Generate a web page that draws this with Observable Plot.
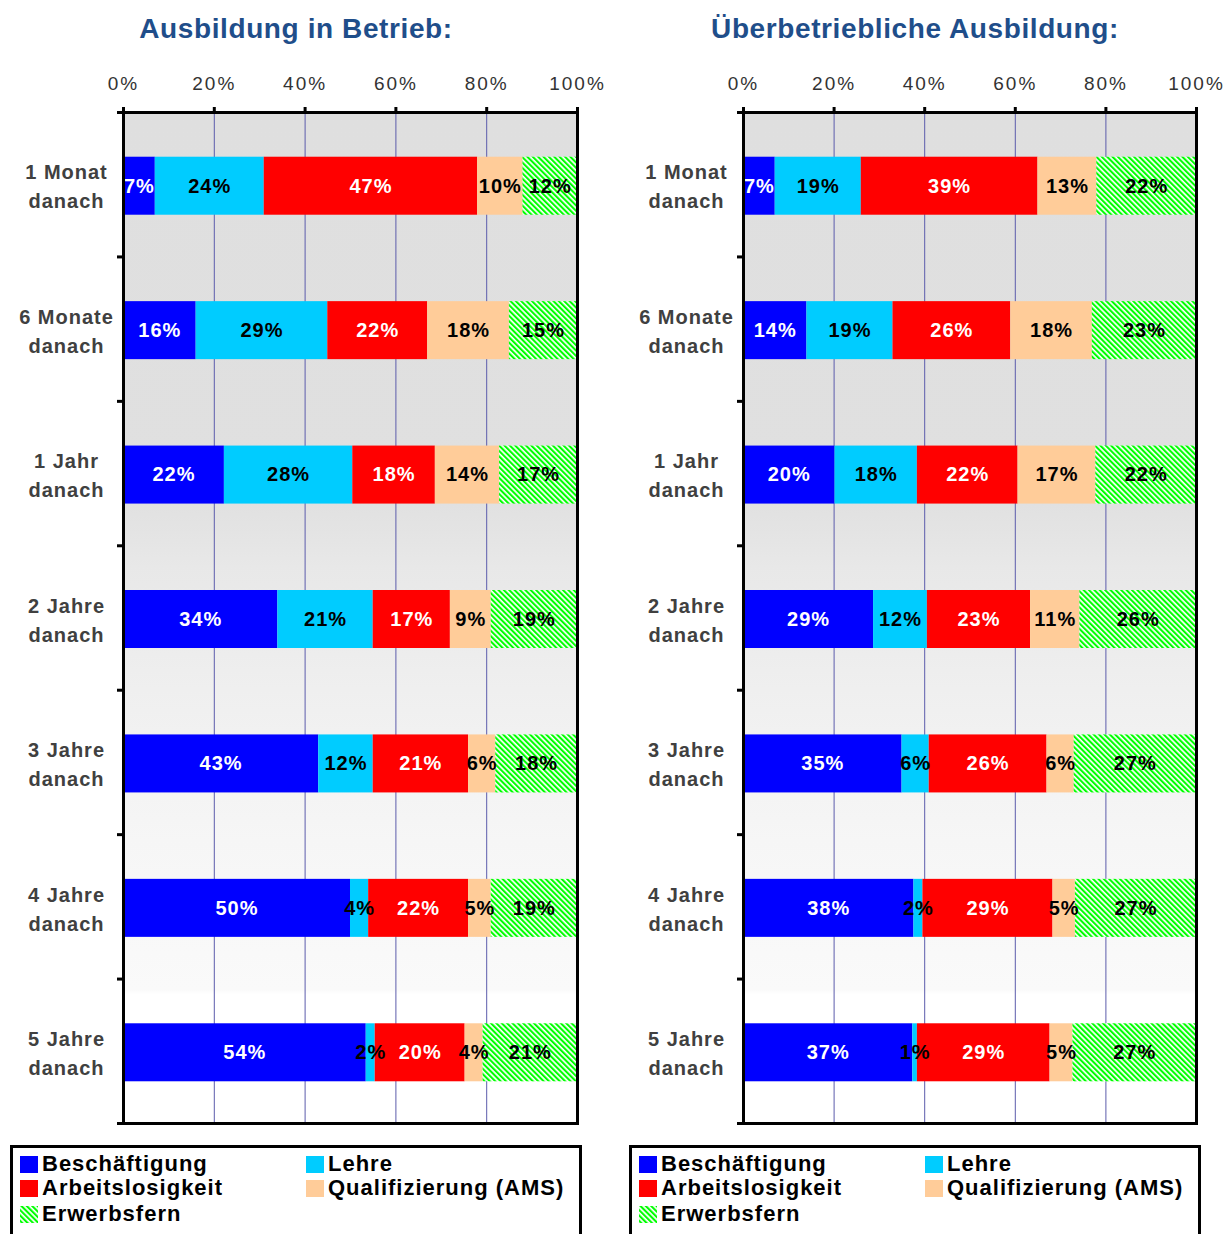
<!DOCTYPE html>
<html>
<head>
<meta charset="utf-8">
<script src="https://cdn.jsdelivr.net/npm/d3@7"></script>
<script src="https://cdn.jsdelivr.net/npm/@observablehq/plot@0.6"></script>
<style>
  body { margin: 0; background: white; font-family: "Liberation Sans", Arial, sans-serif; }
  #root { position: relative; width: 1225px; height: 1234px; overflow: hidden; }
  .panel { position: absolute; top: 50px; }
  .panel svg { overflow: visible; }
  .title { position: absolute; top: 13px; width: 572px; text-align: center; font-weight: bold; font-size: 28px; letter-spacing: 0.6px; line-height: 32px; color: #1f4e8a; }
  .legend { position: absolute; top: 1145px; width: 572px; height: 110px; border: 3px solid black; box-sizing: border-box; }
  .item { position: absolute; display: flex; align-items: center; font-weight: bold; font-size: 22px; letter-spacing: 1px; color: black; height: 24px; white-space: nowrap; }
  .sw { width: 18px; height: 17px; margin-right: 4px; flex: none; }
  g[aria-label="x-axis tick label"] text { letter-spacing: 2px; }
  g[aria-label="text"] text { letter-spacing: 1px; }
</style>
</head>
<body>
<div id="root">
  <svg width="0" height="0" style="position:absolute">
    <defs>
      <pattern id="hatch" patternUnits="userSpaceOnUse" width="3.8" height="3.8" patternTransform="rotate(-45)">
        <rect width="3.8" height="3.8" fill="white"></rect>
        <rect width="2.1" height="3.8" fill="#00ff00"></rect>
      </pattern>
      <linearGradient id="bggrad" x1="0" y1="0" x2="0" y2="1">
        <stop offset="0" stop-color="#dfdfdf"></stop>
        <stop offset="0.38" stop-color="#e0e0e0"></stop>
        <stop offset="0.45" stop-color="#e8e8e8"></stop>
        <stop offset="0.57" stop-color="#efefef"></stop>
        <stop offset="0.72" stop-color="#f6f6f6"></stop>
        <stop offset="0.868" stop-color="#fafafa"></stop>
        <stop offset="0.872" stop-color="#ffffff"></stop>
        <stop offset="1" stop-color="#ffffff"></stop>
      </linearGradient>
    </defs>
  </svg>
  <div class="title" style="left:10px">Ausbildung in Betrieb:</div>
  <div class="title" style="left:629px">Überbetriebliche Ausbildung:</div>
  <div id="p1" class="panel" style="left:0px"></div>
  <div id="p2" class="panel" style="left:612px"></div>
  <div id="l1" class="legend" style="left:10px"></div>
  <div id="l2" class="legend" style="left:629px"></div>
</div>
<script>
// ---- data ----
const categories = ["1 Monat\ndanach", "6 Monate\ndanach", "1 Jahr\ndanach", "2 Jahre\ndanach", "3 Jahre\ndanach", "4 Jahre\ndanach", "5 Jahre\ndanach"];
const series = ["Beschäftigung", "Lehre", "Arbeitslosigkeit", "Qualifizierung (AMS)", "Erwerbsfern"];
const seriesColors = ["#0000ff", "#00ccff", "#ff0000", "#ffcc99", "url(#hatch)"];
const labelColors = ["white", "black", "white", "black", "black"];
const xTicks = [0, 0.2, 0.4, 0.6, 0.8, 1];

// Ausbildung in Betrieb
const betriebBeschaeftigung = [7, 16, 22, 34, 43, 50, 54];
const betriebLehre = [24, 29, 28, 21, 12, 4, 2];
const betriebArbeitslosigkeit = [47, 22, 18, 17, 21, 22, 20];
const betriebQualifizierung = [10, 18, 14, 9, 6, 5, 4];
const betriebErwerbsfern = [12, 15, 17, 19, 18, 19, 21];

// Überbetriebliche Ausbildung
const ueberBeschaeftigung = [7, 14, 20, 29, 35, 38, 37];
const ueberLehre = [19, 19, 18, 12, 6, 2, 1];
const ueberArbeitslosigkeit = [39, 26, 22, 23, 26, 29, 29];
const ueberQualifizierung = [13, 18, 17, 11, 6, 5, 5];
const ueberErwerbsfern = [22, 23, 22, 26, 27, 27, 27];

function toRows(arrays) {
  const rows = [];
  categories.forEach((cat, i) => {
    series.forEach((s, j) => {
      rows.push({cat, series: s, value: arrays[j][i], color: seriesColors[j], textColor: labelColors[j]});
    });
  });
  return rows;
}

const dataBetrieb = toRows([betriebBeschaeftigung, betriebLehre, betriebArbeitslosigkeit, betriebQualifizierung, betriebErwerbsfern]);
const dataUeber = toRows([ueberBeschaeftigung, ueberLehre, ueberArbeitslosigkeit, ueberQualifizierung, ueberErwerbsfern]);

function panel(data, width, marginLeft, marginRight) {
  const height = 1078, marginTop = 62, marginBottom = 5;
  const step = (height - marginTop - marginBottom) / categories.length;
  const barH = 58;
  const inset = (step - barH) / 2;
  return Plot.plot({
    width, height, marginTop, marginBottom, marginLeft, marginRight,
    x: {domain: [0, 1]},
    y: {domain: categories, padding: 0, round: false},
    color: {type: "identity"},
    style: {fontFamily: "'Liberation Sans', Arial, sans-serif", background: "transparent", overflow: "visible"},
    marks: [
      Plot.frame({fill: "url(#bggrad)"}),
      Plot.ruleX(xTicks.slice(1, -1), {stroke: "#5c5cac", strokeWidth: 1}),
      Plot.barX(data, Plot.stackX({x: "value", y: "cat", z: "series", offset: "normalize", fill: d => d.color, insetTop: inset + 1.5, insetBottom: inset - 1.5})),
      Plot.text(data, Plot.stackX({x: "value", y: "cat", z: "series", offset: "normalize", text: d => d.value + "%", fill: d => d.textColor, fontSize: 20, fontWeight: "bold", dy: 1.5})),
      Plot.text(categories, {y: d => d, text: d => d, frameAnchor: "left", dx: -57, dy: 0, textAnchor: "middle", lineHeight: 1.45, fontSize: 20, fontWeight: "bold", fill: "#404040"}),
      Plot.axisX(xTicks, {anchor: "top", tickFormat: d => Math.round(d * 100) + "%", tickSize: 6, tickPadding: 17, fontSize: 19, stroke: "black", fill: "#333", strokeWidth: 3, label: null}),
      Plot.axisY(categories, {anchor: "left", tickSize: 6, tickFormat: () => "", dy: -step / 2, stroke: "black", strokeWidth: 3, label: null}),
      Plot.axisY(categories.slice(-1), {anchor: "left", tickSize: 6, tickFormat: () => "", dy: step / 2, stroke: "black", strokeWidth: 3, label: null}),
      Plot.frame({stroke: "black", strokeWidth: 3})
    ]
  });
}

document.getElementById("p1").append(panel(dataBetrieb, 612, 123, 35));
document.getElementById("p2").append(panel(dataUeber, 613, 131, 29));

function legend(el) {
  const pos = [[7, 4], [293, 4], [7, 28], [293, 28], [7, 54]];
  series.forEach((s, j) => {
    const item = document.createElement("div");
    item.className = "item";
    item.style.left = pos[j][0] + "px";
    item.style.top = pos[j][1] + "px";
    const sw = document.createElementNS("http://www.w3.org/2000/svg", "svg");
    sw.setAttribute("class", "sw");
    sw.setAttribute("width", 18);
    sw.setAttribute("height", 17);
    const r = document.createElementNS("http://www.w3.org/2000/svg", "rect");
    r.setAttribute("width", 18);
    r.setAttribute("height", 17);
    r.setAttribute("fill", seriesColors[j]);
    sw.append(r);
    item.append(sw);
    const t = document.createElement("span");
    t.textContent = s;
    item.append(t);
    el.append(item);
  });
}
legend(document.getElementById("l1"));
legend(document.getElementById("l2"));
</script>
</body>
</html>
